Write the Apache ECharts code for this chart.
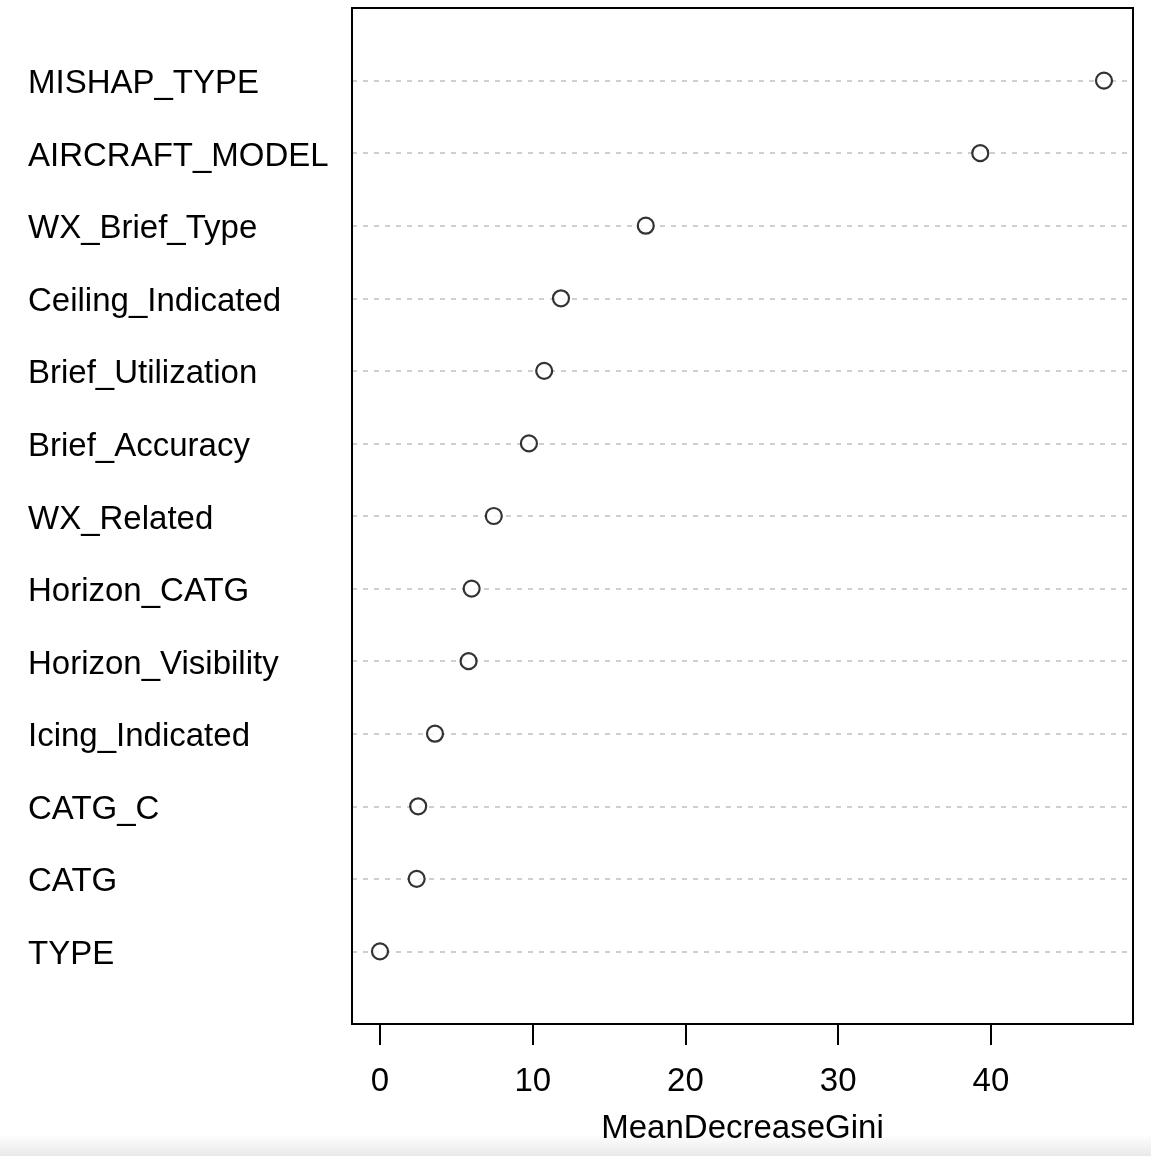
<!DOCTYPE html>
<html>
<head>
<meta charset="utf-8">
<script src="https://cdn.jsdelivr.net/npm/echarts@6/dist/echarts.min.js"></script>
<style>
html,body{margin:0;padding:0;background:#fff;}
#chart{width:1151px;height:1156px;}
</style>
</head>
<body>
<div id="chart"></div>
<script>
// Variables, top to bottom as shown
var categories = ["MISHAP_TYPE","AIRCRAFT_MODEL","WX_Brief_Type","Ceiling_Indicated","Brief_Utilization","Brief_Accuracy","WX_Related","Horizon_CATG","Horizon_Visibility","Icing_Indicated","CATG_C","CATG","TYPE"];
var meanDecreaseGini = [47.4, 39.3, 17.4, 11.85, 10.75, 9.75, 7.45, 6.0, 5.8, 3.6, 2.5, 2.4, 0.0];
var xTickValues = [0, 10, 20, 30, 40];

var FONT = "'Liberation Sans', Arial, Helvetica, sans-serif";
var chart = echarts.init(document.getElementById('chart'));
var pts = meanDecreaseGini.map(function (v, i) { return [v, i + 1]; });

chart.setOption({
  backgroundColor: '#ffffff',
  animation: false,
  grid: {
    left: 352, right: 18, top: 8, bottom: 132,
    show: false
  },
  xAxis: {
    type: 'value',
    position: 'bottom',
    min: -1.833, max: 49.3,
    name: 'MeanDecreaseGini',
    nameLocation: 'middle',
    nameGap: 88,
    nameTextStyle: { fontFamily: FONT, fontSize: 33, color: '#000' },
    axisLine: { show: false, onZero: false },
    axisTick: { show: true, length: 21, lineStyle: { color: '#000', width: 2 }, customValues: xTickValues },
    axisLabel: { show: true, margin: 41, fontFamily: FONT, fontSize: 33, color: '#000', customValues: xTickValues },
    splitLine: { show: false }
  },
  yAxis: {
    type: 'value',
    inverse: true,
    min: 0, max: 14, interval: 1,
    axisLine: { show: false },
    axisTick: { show: false },
    axisLabel: {
      show: true, align: 'left', margin: 324,
      fontFamily: FONT, fontSize: 33, color: '#000',
      formatter: function (v) { var c = categories[v - 1]; return c ? '{a|' + c + '}' : ''; },
      rich: { a: { fontFamily: FONT, fontSize: 33, color: '#000', padding: [7, 0, 0, 0] } }
    },
    splitLine: { show: true, showMinLine: false, showMaxLine: false, lineStyle: { color: '#c0c0c0', width: 1.5, type: [5, 6] } }
  },
  graphic: [{
    type: 'rect', shape: { x: 0, y: 1134, width: 1151, height: 22 }, silent: true, z: -10,
    style: { fill: new echarts.graphic.LinearGradient(0, 0, 0, 1, [{ offset: 0, color: '#ffffff' }, { offset: 1, color: '#e9e9e9' }]) }
  }, {
    type: 'rect', shape: { x: 352, y: 8, width: 781, height: 1016 }, silent: true, z: 10,
    style: { fill: null, stroke: '#000', lineWidth: 2 }
  }],
  series: [{
    type: 'scatter',
    data: pts,
    symbol: 'circle',
    symbolSize: 16,
    itemStyle: { color: '#ffffff', borderColor: '#000000', borderWidth: 2.2 },
    z: 5
  }]
});
</script>
</body>
</html>
